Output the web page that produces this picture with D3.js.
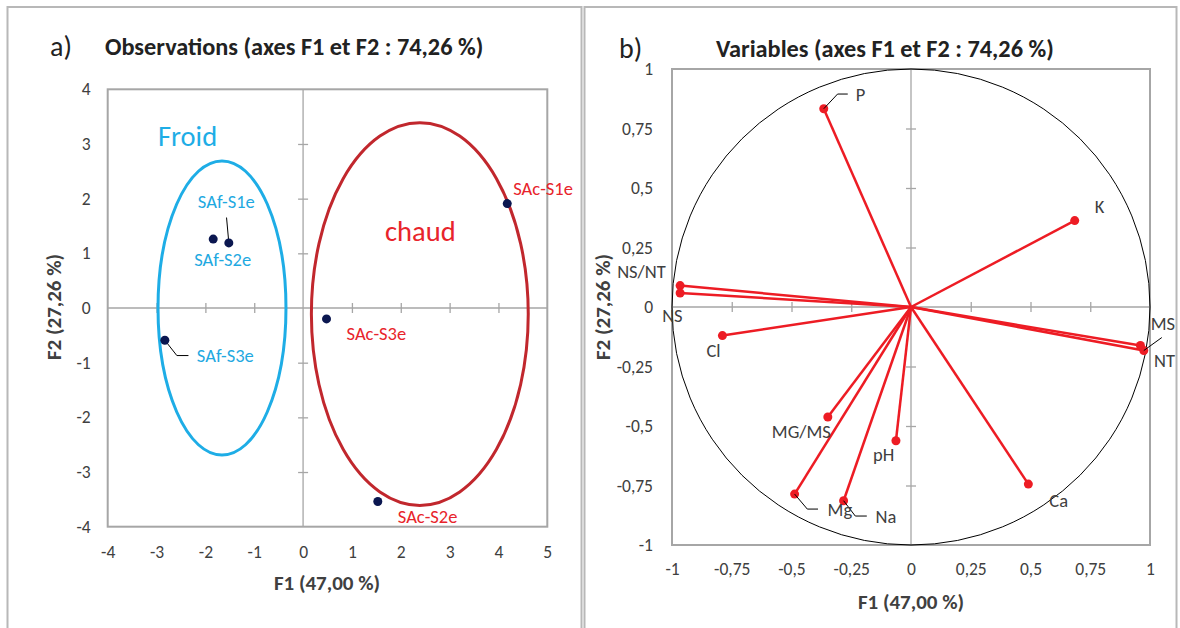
<!doctype html>
<html lang="fr">
<head>
    <meta http-equiv="content-type" content="text/html; charset=utf-8" />
    <title>ACP observations / variables</title>
    <style>
        body { margin: 0; background: #fff; }
        svg { display: block; font-family: Carlito, Calibri, Lato, sans-serif; }
    </style>
</head>
<body>
    <svg id="acp" width="1180" height="628"></svg>

    <script src="https://cdn.jsdelivr.net/npm/d3@7/dist/d3.min.js"></script>

    <script>
        // --- observations (panel a) ---
        const obsNames = ["SAf-S1e", "SAf-S2e", "SAf-S3e", "SAc-S1e", "SAc-S2e", "SAc-S3e"];
        const obsF1 = [-1.52, -1.84, -2.83, 4.18, 1.53, 0.48];
        const obsF2 = [1.19, 1.26, -0.59, 1.91, -3.54, -0.20];
        const obsGroup = ["Froid", "Froid", "Froid", "chaud", "chaud", "chaud"];

        // groups drawn as ellipses (centre and radii in F1/F2 units)
        const groupNames = ["Froid", "chaud"];
        const groupCx = [-1.66, 2.39];
        const groupCy = [0.0, -0.11];
        const groupRx = [1.31, 2.22];
        const groupRy = [2.69, 3.50];

        // --- variables (panel b) ---
        const varNames = ["P", "K", "NS/NT", "NS", "Cl", "MS", "NT", "MG/MS", "pH", "Mg", "Na", "Ca"];
        const varF1 = [-0.365, 0.685, -0.966, -0.966, -0.789, 0.974, 0.960, -0.348, -0.063, -0.487, -0.282, 0.491];
        const varF2 = [0.833, 0.363, 0.090, 0.059, -0.120, -0.183, -0.162, -0.462, -0.562, -0.786, -0.814, -0.744];

        // tick labels
        const obsTicksX = [-4, -3, -2, -1, 0, 1, 2, 3, 4, 5];
        const obsTicksY = [-4, -3, -2, -1, 0, 1, 2, 3, 4];
        const varTicks = [-1, -0.75, -0.5, -0.25, 0, 0.25, 0.5, 0.75, 1];

        const titleA = "Observations (axes F1 et F2 : 74,26 %)";
        const titleB = "Variables (axes F1 et F2 : 74,26 %)";
        const axisF1 = "F1 (47,00 %)";
        const axisF2 = "F2 (27,26 %)";

        // label placement (pixel offsets from the point) and leader lines
        const obsLabelPos = {
            "SAf-S1e": [-31, -35], "SAf-S2e": [-19, 27], "SAf-S3e": [32, 22],
            "SAc-S1e": [6, -9], "SAc-S2e": [20, 21], "SAc-S3e": [20, 21]
        };
        const obsLeaders = {
            "SAf-S1e": [[-2.3, -25.4]],
            "SAf-S3e": [[12, 15.3], [23.6, 15.3]]
        };
        const varLabelPos = {
            "P": [32, -8], "K": [20, -8], "NS/NT": [-63, -8], "NS": [-18, 29],
            "Cl": [-16, 21.5], "MS": [7, -21], "NT": [13.6, 21.5], "MG/MS": [-56, 21.5],
            "pH": [-23, 20], "Mg": [33, 22], "Na": [32, 22], "Ca": [21, 23]
        };
        const varLeaders = {
            "P": [[13.8, -14.7], [24, -14.7]],
            "MS": [[18, -13]],
            "Mg": [[12.7, 15], [23.4, 15]],
            "Na": [[11.7, 15.3], [23.2, 15.3]]
        };

        const frac = d => String(d).replace(".", ",");
        const gridGrey = "#a6a6a6", textGrey = "#404040";
        const blue = "#1eade6", red = "#e8242b", darkRed = "#c1272d";

        const svg = d3.select("#acp");

        // panel frames
        svg.append("rect").attr("x", 7.5).attr("y", 7).attr("width", 574).attr("height", 640)
            .attr("fill", "none").attr("stroke", "#b8b8b8").attr("stroke-width", 2);
        svg.append("rect").attr("x", 584.5).attr("y", 7).attr("width", 592).attr("height", 640)
            .attr("fill", "none").attr("stroke", "#b8b8b8").attr("stroke-width", 2);

        function drawFrame(g, x, y, ticksX, ticksY, fmt, padX, padY) {
            const [x0, x1] = x.range(), [y0, y1] = y.range();

            // zero lines with crossing ticks
            g.append("line").attr("x1", x0).attr("x2", x1).attr("y1", y(0)).attr("y2", y(0))
                .attr("stroke", gridGrey).attr("stroke-width", 1.3);
            g.append("line").attr("x1", x(0)).attr("x2", x(0)).attr("y1", y0).attr("y2", y1)
                .attr("stroke", gridGrey).attr("stroke-width", 1.3);

            const inner = v => v !== 0 && v !== ticksX[0] && v !== ticksX[ticksX.length - 1];
            const innerY = v => v !== 0 && v !== ticksY[0] && v !== ticksY[ticksY.length - 1];
            g.append("g").attr("transform", `translate(0,${y(0) - 5})`)
                .call(d3.axisBottom(x).tickValues(ticksX.filter(inner)).tickSize(10).tickFormat(""))
                .call(a => a.select(".domain").remove())
                .selectAll("line").attr("stroke", gridGrey).attr("stroke-width", 1.3);
            g.append("g").attr("transform", `translate(${x(0) - 5},0)`)
                .call(d3.axisRight(y).tickValues(ticksY.filter(innerY)).tickSize(10).tickFormat(""))
                .call(a => a.select(".domain").remove())
                .selectAll("line").attr("stroke", gridGrey).attr("stroke-width", 1.3);

            // plot border
            g.append("rect").attr("x", x0).attr("y", y1).attr("width", x1 - x0).attr("height", y0 - y1)
                .attr("fill", "none").attr("stroke", gridGrey).attr("stroke-width", 2);

            // tick labels along the border
            const styleAxis = a => {
                a.attr("font-family", null).attr("font-size", null);
                a.select(".domain").remove();
                a.selectAll("text").attr("fill", textGrey).style("font-size", "17.5px");
            };
            g.append("g").attr("transform", `translate(0,${y0})`)
                .call(d3.axisBottom(x).tickValues(ticksX).tickSize(0).tickPadding(padX).tickFormat(fmt))
                .call(styleAxis);
            g.append("g").attr("transform", `translate(${x0},0)`)
                .call(d3.axisLeft(y).tickValues(ticksY).tickSize(0).tickPadding(padY).tickFormat(fmt))
                .call(styleAxis);
        }

        function drawTitles(g, letter, letterX, title, titleX, titleY, axisX, axisY, f2X) {
            g.append("text").attr("x", letterX).attr("y", titleY).attr("dy", "0.35em")
                .attr("fill", "#222").style("font-size", "28px").text(letter);
            g.append("text").attr("x", titleX).attr("y", titleY).attr("dy", "0.35em")
                .attr("fill", "#222").style("font-size", "24.3px").style("font-weight", "bold").text(title);
            g.append("text").attr("x", axisX).attr("y", axisY).attr("dy", "0.35em")
                .attr("text-anchor", "middle").attr("fill", textGrey)
                .style("font-size", "21px").style("font-weight", "bold").text(axisF1);
            g.append("text").attr("transform", `translate(${f2X},307) rotate(-90)`).attr("dy", "0.35em")
                .attr("text-anchor", "middle").attr("fill", textGrey)
                .style("font-size", "21px").style("font-weight", "bold").text(axisF2);
        }

        function leaderPath(px, py, pts) {
            return "M" + px + "," + py + pts.map(p => "L" + (px + p[0]) + "," + (py + p[1])).join("");
        }

        // ---------- panel a ----------
        {
            const x = d3.scaleLinear([-4, 5], [107.7, 547.3]);
            const y = d3.scaleLinear([-4, 4], [526.7, 89.3]);
            const g = svg.append("g");
            drawFrame(g, x, y, obsTicksX, obsTicksY, d => d, 19, 17);
            drawTitles(g, "a)", 50, titleA, 105, 46, 327, 583, 54);

            const groups = groupNames.map((name, i) => ({
                name, cx: groupCx[i], cy: groupCy[i], rx: groupRx[i], ry: groupRy[i],
                color: i === 0 ? blue : darkRed
            }));
            g.append("g").selectAll("ellipse").data(groups).join("ellipse")
                .attr("cx", d => x(d.cx)).attr("cy", d => y(d.cy))
                .attr("rx", d => x(d.cx + d.rx) - x(d.cx)).attr("ry", d => y(d.cy) - y(d.cy + d.ry))
                .attr("fill", "none").attr("stroke", d => d.color).attr("stroke-width", 3);

            // group names
            g.append("text").attr("x", 158).attr("y", 146).attr("fill", blue)
                .style("font-size", "28.5px").text(groupNames[0]);
            g.append("text").attr("x", 385).attr("y", 241).attr("fill", red)
                .style("font-size", "28.5px").text(groupNames[1]);

            const obs = obsNames.map((name, i) => ({ name, f1: obsF1[i], f2: obsF2[i], group: obsGroup[i] }));

            g.append("g").selectAll("path").data(obs.filter(d => obsLeaders[d.name])).join("path")
                .attr("d", d => leaderPath(x(d.f1), y(d.f2), obsLeaders[d.name]))
                .attr("fill", "none").attr("stroke", "#000").attr("stroke-width", 1);

            g.append("g").selectAll("circle").data(obs).join("circle")
                .attr("cx", d => x(d.f1)).attr("cy", d => y(d.f2)).attr("r", 4.5)
                .attr("fill", "#0b1750");

            g.append("g").selectAll("text").data(obs).join("text")
                .attr("x", d => x(d.f1) + obsLabelPos[d.name][0])
                .attr("y", d => y(d.f2) + obsLabelPos[d.name][1])
                .attr("fill", d => d.group === "Froid" ? "#1fa9e1" : red)
                .style("font-size", "18.5px")
                .text(d => d.name);
        }

        // ---------- panel b ----------
        {
            const x = d3.scaleLinear([-1, 1], [672, 1150]);
            const y = d3.scaleLinear([-1, 1], [545, 69]);
            const g = svg.append("g");
            drawFrame(g, x, y, varTicks, varTicks, frac, 18, 19);
            drawTitles(g, "b)", 619, titleB, 716, 48, 911, 602, 603);

            // correlation circle
            g.append("ellipse").attr("cx", x(0)).attr("cy", y(0))
                .attr("rx", x(1) - x(0)).attr("ry", y(0) - y(1))
                .attr("fill", "none").attr("stroke", "#000").attr("stroke-width", 1);

            const vars = varNames.map((name, i) => ({ name, f1: varF1[i], f2: varF2[i] }));

            g.append("g").selectAll("line").data(vars).join("line")
                .attr("x1", x(0)).attr("y1", y(0))
                .attr("x2", d => x(d.f1)).attr("y2", d => y(d.f2))
                .attr("stroke", "#ed1c24").attr("stroke-width", 2.5);

            g.append("g").selectAll("circle").data(vars).join("circle")
                .attr("cx", d => x(d.f1)).attr("cy", d => y(d.f2)).attr("r", 4.5)
                .attr("fill", "#ed1c24");

            g.append("g").selectAll("path").data(vars.filter(d => varLeaders[d.name])).join("path")
                .attr("d", d => leaderPath(x(d.f1), y(d.f2), varLeaders[d.name]))
                .attr("fill", "none").attr("stroke", "#000").attr("stroke-width", 1);

            g.append("g").selectAll("text").data(vars).join("text")
                .attr("x", d => x(d.f1) + varLabelPos[d.name][0])
                .attr("y", d => y(d.f2) + varLabelPos[d.name][1])
                .attr("fill", textGrey)
                .style("font-size", "18.5px")
                .text(d => d.name);
        }
    </script>
</body>
</html>
